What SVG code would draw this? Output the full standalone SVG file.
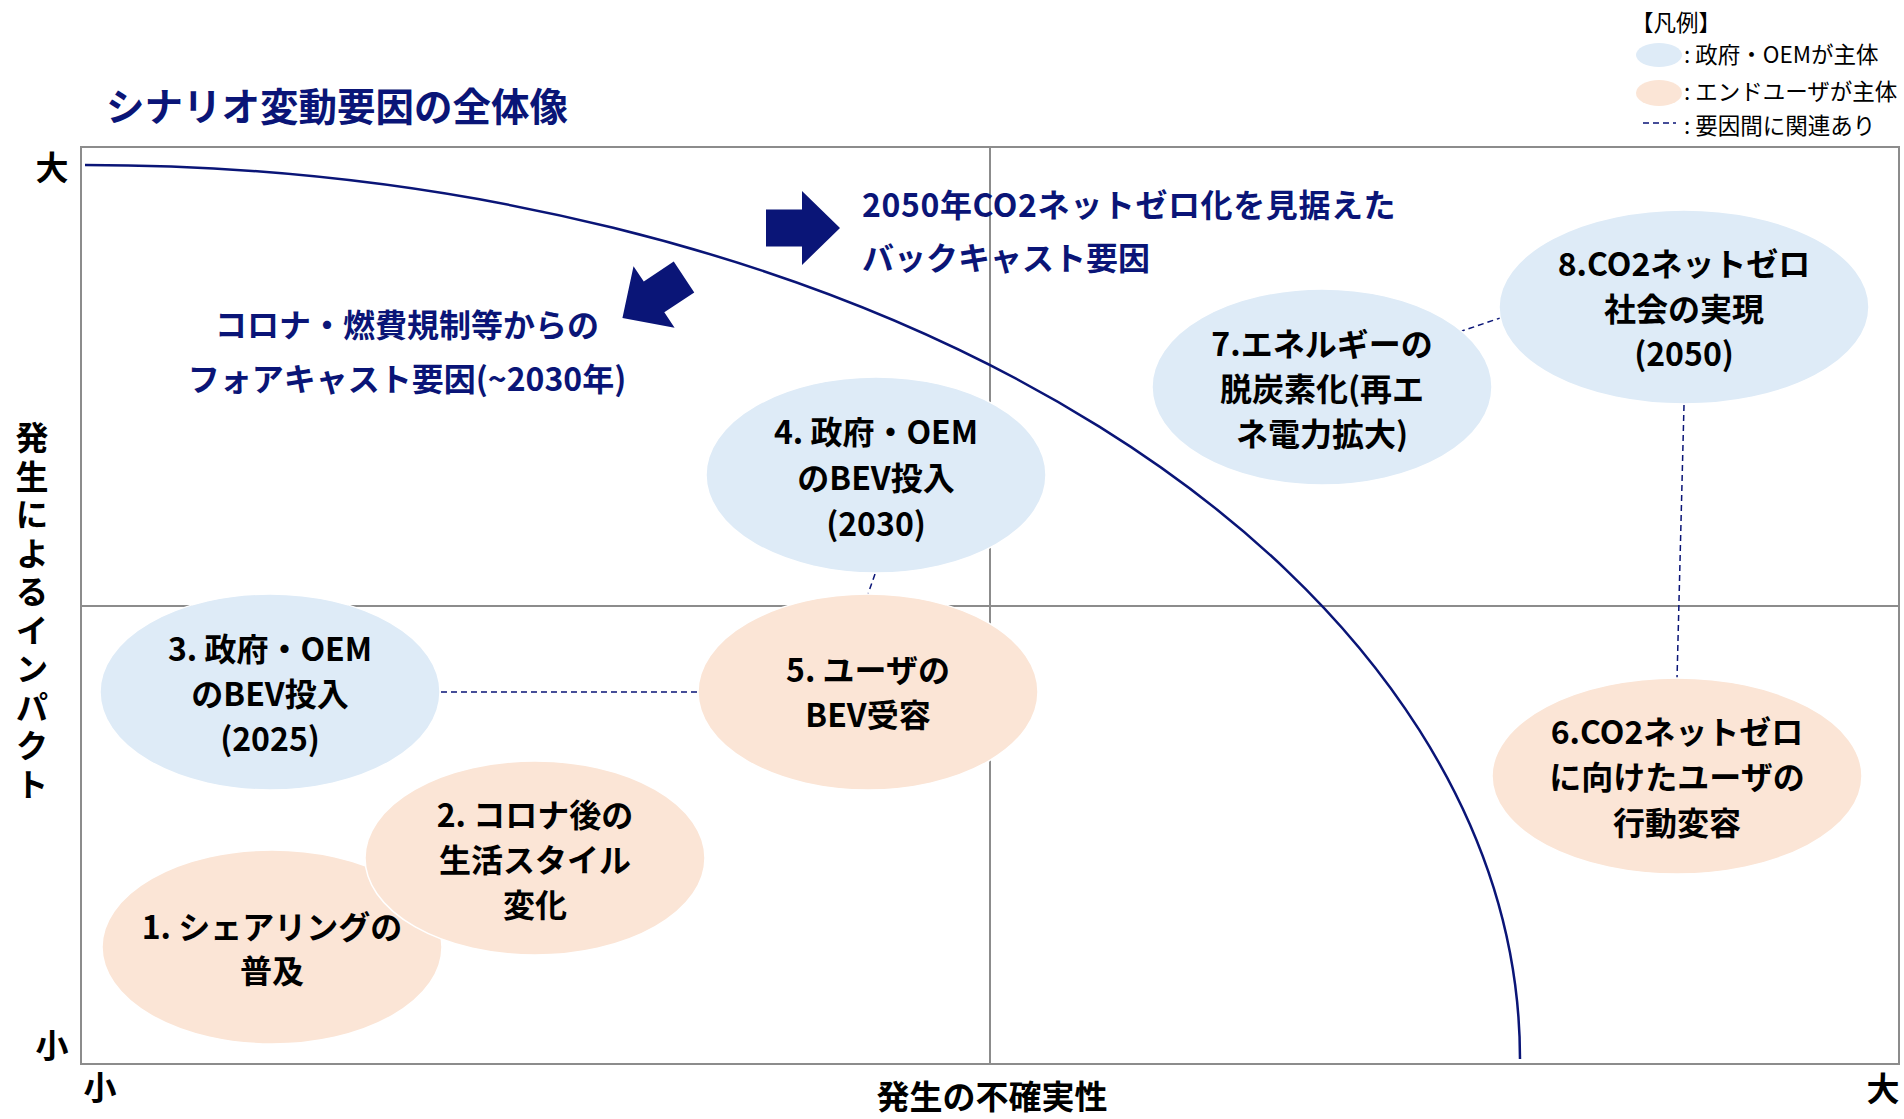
<svg xmlns="http://www.w3.org/2000/svg" width="1904" height="1119" viewBox="0 0 1904 1119">
<style>
text{font-family:"Noto Sans CJK JP","Noto Sans",sans-serif}
.grid{fill:none;stroke:#8c8c8c;stroke-width:2}
.gov{fill:#DEEBF7;stroke:#ffffff;stroke-width:1.5}
.user{fill:#FBE5D6;stroke:#ffffff;stroke-width:1.5}
.lbl{font-size:32px;font-weight:700;fill:#000000;text-anchor:middle}
.navy{fill:#0A1577;font-weight:700}
.axis{font-size:33px;font-weight:700;fill:#000000}
.leg{font-size:22.5px;fill:#000000}
.rel{fill:none;stroke:#0A1577;stroke-width:1.5;stroke-dasharray:6 4}
</style>
<defs>
<path id="arrow" d="M0,-18.5 L36,-18.5 L36,-37 L74,0 L36,37 L36,18.5 L0,18.5 Z" fill="#0A1577"/>
</defs>
<rect width="1904" height="1119" fill="#ffffff"/>

<g id="grid">
<rect class="grid" x="81" y="147" width="1818" height="917"/>
<line class="grid" x1="990" y1="147" x2="990" y2="1064"/>
<line class="grid" x1="81" y1="606" x2="1899" y2="606"/>
</g>

<g id="title">
<text class="navy" x="106" y="121" font-size="38.5">シナリオ変動要因の全体像</text>
</g>

<g id="legend">
<text class="leg" x="1631" y="31">【凡例】</text>
<ellipse cx="1659" cy="55" rx="23" ry="12" fill="#DEEBF7"/>
<text class="leg" x="1684" y="63">: 政府・OEMが主体</text>
<ellipse cx="1659" cy="93" rx="23" ry="13" fill="#FBE5D6"/>
<text class="leg" x="1684" y="100">: エンドユーザが主体</text>
<line class="rel" x1="1643" y1="123" x2="1676" y2="123" stroke-width="1.2" stroke-dasharray="4 3"/>
<text class="leg" x="1684" y="134">: 要因間に関連あり</text>
</g>

<g id="axes">
<text class="axis" x="52" y="180" text-anchor="middle">大</text>
<text class="axis" x="52" y="1058" text-anchor="middle">小</text>
<text class="axis" x="100" y="1100" text-anchor="middle">小</text>
<text class="axis" x="1883" y="1101" text-anchor="middle">大</text>
<text class="axis" x="992" y="1109" text-anchor="middle" font-size="35">発生の不確実性</text>
<text class="axis" x="32" y="421" writing-mode="vertical-rl" letter-spacing="5.5">発生によるインパクト</text>
</g>

<g id="boundary">
<path d="M85,165 A1435,894 0 0 1 1520,1059" fill="none" stroke="#0A1577" stroke-width="2.5"/>
</g>

<g id="backcast">
<use href="#arrow" transform="translate(766,228)"/>
<text class="navy" font-size="32"><tspan x="862" y="217" letter-spacing="0.6">2050年CO2ネットゼロ化を見据えた</tspan><tspan x="862" y="270">バックキャスト要因</tspan></text>
</g>

<g id="forecast">
<use href="#arrow" transform="translate(684,277) rotate(146.3)"/>
<text class="navy" font-size="32" text-anchor="middle"><tspan x="407" y="337">コロナ・燃費規制等からの</tspan><tspan x="407" y="391">フォアキャスト要因(~2030年)</tspan></text>
</g>

<g id="connectors">
<line class="rel" x1="441" y1="692" x2="699" y2="692"/>
<line class="rel" x1="875" y1="574" x2="868" y2="594"/>
<line class="rel" x1="1459" y1="332" x2="1506" y2="316"/>
<line class="rel" x1="1684" y1="405" x2="1677" y2="679"/>
</g>

<g id="node1">
<ellipse class="user" cx="272" cy="947" rx="170" ry="97"/>
<text class="lbl"><tspan x="272" y="939">1. シェアリングの</tspan><tspan x="272" y="983">普及</tspan></text>
</g>

<g id="node2">
<ellipse class="user" cx="535" cy="858" rx="170" ry="97"/>
<text class="lbl"><tspan x="535" y="827">2. コロナ後の</tspan><tspan x="535" y="872">生活スタイル</tspan><tspan x="535" y="917">変化</tspan></text>
</g>

<g id="node3">
<ellipse class="gov" cx="270" cy="692" rx="170" ry="98"/>
<text class="lbl"><tspan x="270" y="661">3. 政府・OEM</tspan><tspan x="270" y="706">のBEV投入</tspan><tspan x="270" y="751">(2025)</tspan></text>
</g>

<g id="node4">
<ellipse class="gov" cx="876" cy="475" rx="170" ry="98"/>
<text class="lbl"><tspan x="876" y="444">4. 政府・OEM</tspan><tspan x="876" y="490">のBEV投入</tspan><tspan x="876" y="536">(2030)</tspan></text>
</g>

<g id="node5">
<ellipse class="user" cx="868" cy="692" rx="170" ry="98"/>
<text class="lbl"><tspan x="868" y="682">5. ユーザの</tspan><tspan x="868" y="727">BEV受容</tspan></text>
</g>

<g id="node6">
<ellipse class="user" cx="1677" cy="776" rx="185" ry="98"/>
<text class="lbl"><tspan x="1677" y="744">6.CO2ネットゼロ</tspan><tspan x="1677" y="789">に向けたユーザの</tspan><tspan x="1677" y="835">行動変容</tspan></text>
</g>

<g id="node7">
<ellipse class="gov" cx="1322" cy="387" rx="170" ry="98"/>
<text class="lbl"><tspan x="1322" y="356">7.エネルギーの</tspan><tspan x="1322" y="401">脱炭素化(再エ</tspan><tspan x="1322" y="446">ネ電力拡大)</tspan></text>
</g>

<g id="node8">
<ellipse class="gov" cx="1684" cy="307" rx="185" ry="97"/>
<text class="lbl"><tspan x="1684" y="276">8.CO2ネットゼロ</tspan><tspan x="1684" y="321">社会の実現</tspan><tspan x="1684" y="366">(2050)</tspan></text>
</g>
</svg>
